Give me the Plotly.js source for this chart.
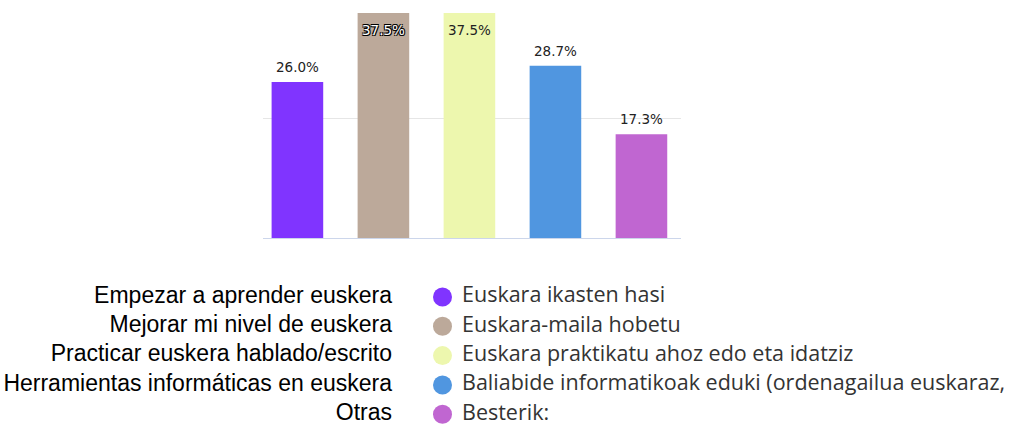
<!DOCTYPE html>
<html>
<head>
<meta charset="utf-8">
<script src="https://cdn.plot.ly/plotly-3.0.1.min.js"></script>
<style>html,body{margin:0;padding:0;background:#fff;}#chart{width:1014px;height:430px;}</style>
</head>
<body>
<div id="chart"></div>
<script>
// ---- data ----
const categories = ["Euskara ikasten hasi", "Euskara-maila hobetu", "Euskara praktikatu ahoz edo eta idatziz", "Baliabide informatikoak eduki (ordenagailua euskaraz, ", "Besterik:"];
const spanishLabels = ["Empezar a aprender euskera", "Mejorar mi nivel de euskera", "Practicar euskera hablado/escrito", "Herramientas informáticas en euskera", "Otras"];
const values = [26.0, 37.5, 37.5, 28.7, 17.3];
const colors = ["#8034ff", "#bca99a", "#edf7ae", "#5096e0", "#c066d1"];
const labelTexts = values.map(v => v.toFixed(1) + "%");

const yTop = 39.67;
const rowIdx = categories.map((_, i) => i);

const barTrace = {
  type: "bar",
  x: rowIdx,
  y: values,
  marker: {color: colors, line: {width: 0}},
  width: 0.6,
  hoverinfo: "none",
  showlegend: false,
  xaxis: "x", yaxis: "y"
};

const legendDots = {
  type: "scatter", mode: "markers",
  x: rowIdx.map(() => 442.5), y: rowIdx,
  marker: {color: colors, size: 19, symbol: "circle"},
  xaxis: "x2", yaxis: "y2", hoverinfo: "none", showlegend: false, cliponaxis: false
};
const legendBasque = {
  type: "scatter", mode: "text",
  x: rowIdx.map(() => 462), y: rowIdx,
  text: categories, textposition: "middle right",
  textfont: {family: "Open Sans, sans-serif", size: 21.5, color: "#333333"},
  xaxis: "x2", yaxis: "y2", hoverinfo: "none", showlegend: false, cliponaxis: false
};
const legendSpanish = {
  type: "scatter", mode: "text",
  x: rowIdx.map(() => 392), y: rowIdx,
  text: spanishLabels, textposition: "middle left",
  textfont: {family: "Liberation Sans Narrow, Arial Narrow, Liberation Sans, sans-serif", size: 23, color: "#000000"},
  xaxis: "x2", yaxis: "y2", hoverinfo: "none", showlegend: false, cliponaxis: false
};

const annotations = values.map((v, i) => {
  const inside = v > yTop - 4;
  const darkBar = i === 1;
  return {
    x: i, y: v, xref: "x", yref: "y",
    text: labelTexts[i], showarrow: false,
    yanchor: "middle", yshift: inside ? -17 : 15,
    font: {
      family: "DejaVu Sans, sans-serif", size: 13.5,
      color: (inside && darkBar) ? "#ffffff" : "#222222",
      shadow: (inside && darkBar) ? "1px 1px 0 #000, -1px -1px 0 #000, 1px -1px 0 #000, -1px 1px 0 #000" : "none"
    }
  };
});

const layout = {
  width: 1014, height: 430,
  margin: {l: 0, r: 0, t: 0, b: 0},
  paper_bgcolor: "#ffffff", plot_bgcolor: "rgba(0,0,0,0)",
  showlegend: false,
  xaxis: {
    domain: [263/1014, 681/1014], range: [-0.4, 4.46],
    showticklabels: false, ticks: "", showgrid: false, zeroline: false,
    showline: true, linecolor: "#ccd6eb", linewidth: 1, fixedrange: true
  },
  yaxis: {
    domain: [(430-238)/430, 1], range: [0, yTop],
    tickvals: [20], showticklabels: false, ticks: "",
    showgrid: true, gridcolor: "#e6e6e6", gridwidth: 1, zeroline: false, showline: false, fixedrange: true
  },
  xaxis2: {
    domain: [0, 1], range: [0, 1014], anchor: "y2", visible: false, fixedrange: true
  },
  yaxis2: {
    domain: [0, 0.45], range: [4.539, -2.065], anchor: "x2", visible: false, fixedrange: true
  },
  annotations: annotations
};

Plotly.newPlot("chart", [barTrace, legendDots, legendBasque, legendSpanish], layout, {displayModeBar: false, staticPlot: true});
</script>
</body>
</html>
